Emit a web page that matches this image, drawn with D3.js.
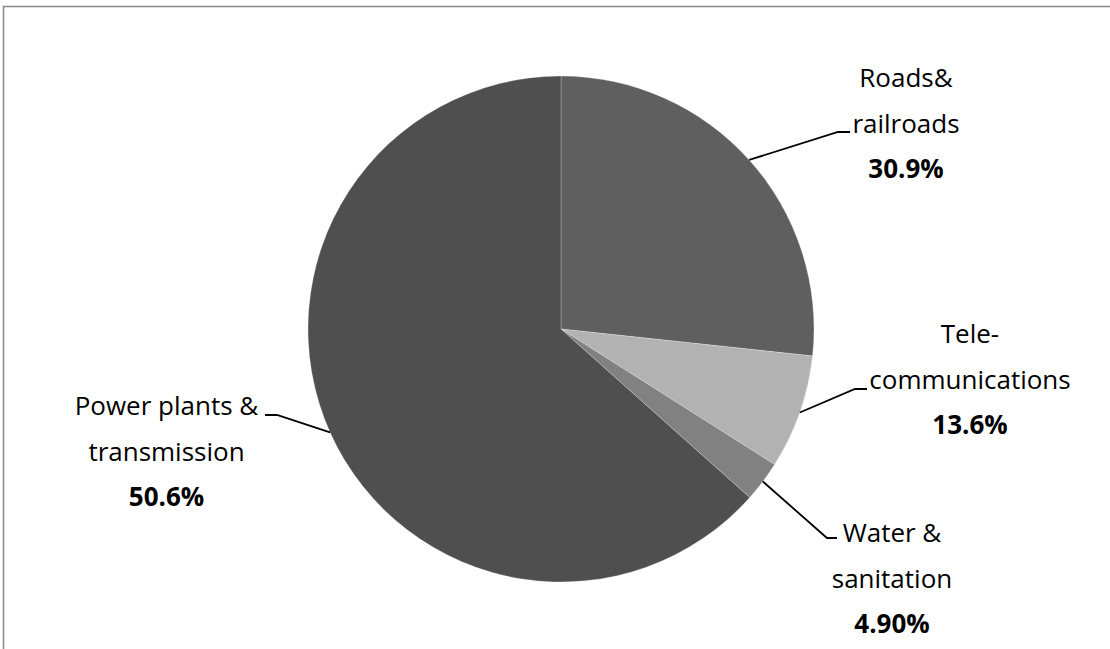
<!DOCTYPE html>
<html>
<head>
<meta charset="utf-8">
<script src="https://cdn.jsdelivr.net/npm/d3@7"></script>
<style>
  html, body { margin: 0; padding: 0; background: #fff; overflow: hidden; }
  svg { display: block; }
  text { font-family: "Open Sans", "Noto Sans", sans-serif; fill: #000; }
</style>
</head>
<body>
<svg id="chart" width="1110" height="649"></svg>
<script>
// ---- data ----
const categories = ["Roads& railroads", "Tele- communications", "Water & sanitation", "Power plants & transmission"];
// slice sizes as drawn (share of the circle, %)
const sliceValues = [26.7, 7.3, 2.6, 63.4];
// label lines and printed percentages
const labelLines = [["Roads&", "railroads"], ["Tele-", "communications"], ["Water &", "sanitation"], ["Power plants &", "transmission"]];
const percentLabels = ["30.9%", "13.6%", "4.90%", "50.6%"];
const colors = ["#5f5f5f", "#b2b2b2", "#818181", "#4f4f4f"];

// ---- layout ----
const cx = 561, cy = 329, R = 253;
const lineGap = 45.5;
const fontSize = 26;
// label layout: elbow point, line end, text centre x, first baseline y
const labelLayout = [
  { elbow: [838, 132], end: [850, 132], tx: 906, ty: 87 },
  { elbow: [855, 389], end: [867, 389], tx: 970, ty: 343 },
  { elbow: [827, 538], end: [837, 538], tx: 892, ty: 542 },
  { elbow: [277, 415], end: [265, 415], tx: 166.5, ty: 415 }
];

const svg = d3.select("#chart");

// outer frame
svg.append("rect")
  .attr("x", 3.5).attr("y", 6.5)
  .attr("width", 1300).attr("height", 900)
  .attr("fill", "none")
  .attr("stroke", "#868686")
  .attr("stroke-width", 1.5);

const pie = d3.pie().sort(null).value(d => d)(sliceValues);
const arc = d3.arc().innerRadius(0).outerRadius(R);

const g = svg.append("g").attr("transform", `translate(${cx},${cy})`);

g.selectAll("path.slice")
  .data(pie)
  .join("path")
  .attr("class", "slice")
  .attr("d", arc)
  .attr("fill", (d, i) => colors[i])
  .attr("stroke", "#ffffff")
  .attr("stroke-opacity", 0.35)
  .attr("stroke-width", 0.75);

// leader lines and labels
pie.forEach((d, i) => {
  const mid = (d.startAngle + d.endAngle) / 2;
  const sx = cx + R * Math.sin(mid);
  const sy = cy - R * Math.cos(mid);
  const L = labelLayout[i];
  svg.append("polyline")
    .attr("points", [[sx, sy], L.elbow, L.end].map(p => p.join(",")).join(" "))
    .attr("fill", "none")
    .attr("stroke", "#000")
    .attr("stroke-width", 1.8);

  const t = svg.append("g");
  labelLines[i].forEach((ln, k) => {
    t.append("text")
      .attr("x", L.tx)
      .attr("y", L.ty + k * lineGap)
      .attr("text-anchor", "middle")
      .attr("font-size", fontSize)
      .text(ln);
  });
  t.append("text")
    .attr("x", L.tx)
    .attr("y", L.ty + labelLines[i].length * lineGap)
    .attr("text-anchor", "middle")
    .attr("font-size", fontSize)
    .attr("font-weight", "bold")
    .text(percentLabels[i]);
});
</script>
</body>
</html>
